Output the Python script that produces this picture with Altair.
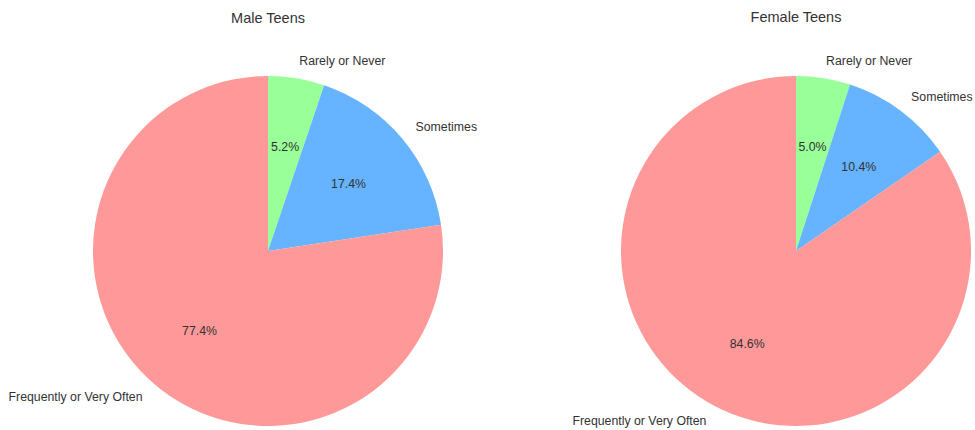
import altair as alt
import pandas as pd

groups = ["Male Teens", "Female Teens"]
categories = ["Rarely or Never", "Sometimes", "Frequently or Very Often"]
male_values = [5.2, 17.4, 77.4]
female_values = [5.0, 10.4, 84.6]
colors = ["#99ff99", "#66b3ff", "#ff9999"]

rows = []
for g, vals in zip(groups, [male_values, female_values]):
    for i, (c, v) in enumerate(zip(categories, vals)):
        rows.append({"group": g, "category": c, "value": v, "idx": i})
df = pd.DataFrame(rows)

FONT = "Liberation Sans"
R = 175
FS = 12.3


def panel(g):
    base = (
        alt.Chart(df)
        .transform_filter(alt.datum.group == g)
        .transform_joinaggregate(total="sum(value)")
        .transform_window(cum="sum(value)", sort=[alt.SortField("idx")], frame=[None, 0])
        .transform_calculate(
            mid="(datum.cum - datum.value / 2) / datum.total",
            pct="format(datum.value, '.1f') + '%'",
        )
        .transform_calculate(
            labR="datum.mid < 0.5 ? datum.category : ''",
            labL="datum.mid >= 0.5 ? datum.category : ''",
        )
        .encode(
            theta=alt.Theta("value:Q", stack=True),
            order=alt.Order("idx:Q"),
        )
    )
    arc = base.mark_arc(strokeWidth=0).encode(
        color=alt.Color(
            "category:N",
            scale=alt.Scale(domain=categories, range=colors),
            legend=None,
        )
    )
    pct = base.mark_text(
        radius=R * 0.6, font=FONT, fontSize=FS, color="#333333", baseline="middle"
    ).encode(text="pct:N")
    labR = base.mark_text(
        radius=R * 1.1, font=FONT, fontSize=FS, color="#333333", align="left", baseline="middle"
    ).encode(text="labR:N")
    labL = base.mark_text(
        radius=R * 1.1, font=FONT, fontSize=FS, color="#333333", align="right", baseline="middle"
    ).encode(text="labL:N")
    return alt.layer(arc, pct, labR, labL).properties(
        width=2 * R,
        height=2 * R,
        title=alt.TitleParams(
            g, font=FONT, fontSize=14.5, fontWeight="normal", color="#333333",
            anchor="middle", offset=29,
        ),
    )


chart = (
    alt.hconcat(panel(groups[0]), panel(groups[1]), spacing=178, bounds="flush")
    .properties(
        padding={"left": 8, "top": 10, "right": 0, "bottom": 0},
    )
    .configure_view(stroke=None)
    .configure(background="white")
)

chart.save("out.html", embed_options={"renderer": "svg", "actions": False})
